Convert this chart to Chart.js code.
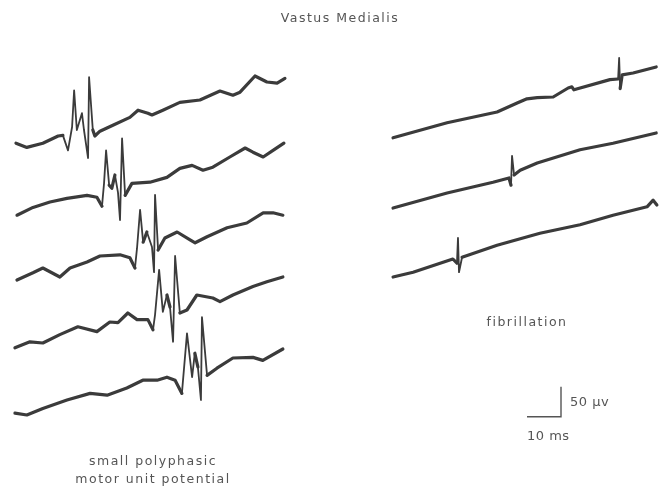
<!DOCTYPE html>
<html>
<head>
<meta charset="utf-8">
<script src="https://cdn.jsdelivr.net/npm/chart.js@4.4.0/dist/chart.umd.min.js"></script>
<style>
  html, body { margin: 0; padding: 0; background: #fff; }
  #wrap { width: 662px; height: 487px; position: relative; }
</style>
</head>
<body>
<div id="wrap"><canvas id="emg" width="662" height="487"></canvas></div>
<script>
// traces: [time ms from sweep start, µV relative to sweep start]
// small polyphasic motor unit potential, 5 consecutive sweeps
const mup1 = [[0,0],[3.2,-7],[7.9,0],[12.4,12],[13.8,13],[15.3,-12],[16.5,27],[17.1,88],[17.9,22],[19.4,50],[20,22],[21.2,-25],[21.5,110],[22.6,22],[23.2,12],[24.7,20],[28.5,30],[33.5,43],[35.9,55],[38.8,50],[40,47],[43.2,55],[48.2,68],[54.1,72],[60,87],[63.8,80],[65.9,85],[70.3,112],[73.8,102],[76.8,100],[79.1,108]];
const mup2 = [[0,0],[4.7,13],[9.7,22],[14.7,28],[20.6,33],[23.5,30],[25,15],[25.6,53],[26.2,108],[27.1,50],[27.9,45],[28.8,67],[29.7,38],[30.3,-8],[30.9,128],[31.8,33],[33.8,53],[39.1,55],[44.1,63],[47.9,78],[51.5,83],[54.7,75],[57.6,80],[62.6,97],[67.1,112],[69.4,105],[72.4,97],[75.3,108],[78.5,120]];
const mup3 = [[0,0],[4.7,12],[7.6,20],[12.6,5],[15.6,20],[20.6,30],[24.4,40],[30.3,42],[33.2,37],[34.7,20],[35.3,53],[36.2,117],[37.1,63],[38.2,80],[39.7,55],[40.3,13],[40.6,142],[41.5,50],[43.5,70],[47.1,80],[50.9,67],[52.4,62],[55.9,72],[61.8,87],[67.6,95],[72.4,112],[75.3,112],[78.2,108]];
const mup4 = [[0,0],[4.4,10],[8.2,8],[13.2,22],[18.5,35],[24.1,27],[27.9,43],[30.3,42],[33.2,58],[35.9,47],[39.1,47],[40.6,30],[41.2,55],[42.4,130],[43.5,60],[44.7,88],[45.6,68],[46.5,10],[47.1,153],[48.5,58],[50.6,63],[53.5,88],[58.2,83],[60.3,77],[64.1,88],[70,102],[74.1,110],[78.8,118]];
const mup5 = [[0,0],[3.5,-3],[8.2,8],[15.3,22],[22.1,33],[27.1,30],[32.9,42],[37.6,55],[41.8,55],[44.7,60],[47.1,55],[49.1,33],[50.6,133],[52.1,60],[52.9,100],[53.8,77],[54.7,22],[55,160],[56.5,63],[59.4,75],[64.1,92],[70,93],[72.9,88],[78.8,107]];
// fibrillation, 3 sweeps
const fib1 = [[0,0],[15.9,25],[30.6,43],[36.5,58],[39.4,65],[42.4,67],[47.1,68],[51.5,83],[52.6,85],[53.2,80],[63.8,97],[66.2,98],[66.5,133],[66.8,82],[67.4,105],[70.6,108],[77.4,118]];
const fib2 = [[0,0],[15.9,25],[29.4,43],[34.1,50],[34.7,38],[35,87],[35.6,55],[37.4,63],[42.4,75],[55,97],[64.7,108],[77.4,125]];
const fib3 = [[0,0],[5.9,8],[17.6,30],[18.8,23],[19.1,65],[19.4,8],[20.3,33],[30.6,53],[43.2,73],[55,87],[64.7,103],[74.7,117],[76.5,128],[77.6,120]];
// calibration
const calTime = [10];   // ms
const calVolt = [50];   // µV

// where each sweep starts on the page (ms, µV)
const sweeps = [
  { data: mup1, at: [4.7, 573] },
  { data: mup2, at: [5.0, 453] },
  { data: mup3, at: [5.0, 345] },
  { data: mup4, at: [4.4, 232] },
  { data: mup5, at: [4.4, 123] },
  { data: fib1, at: [115.6, 582] },
  { data: fib2, at: [115.6, 465] },
  { data: fib3, at: [115.6, 350] }
];
const calAt = [165, 117];
const PX_PER_MS = 3.4, PX_PER_UV = 0.6;

const ink = '#3b3b3b';
const datasets = sweeps.map(s => ({
  data: s.data.map(p => ({ x: s.at[0] + p[0], y: s.at[1] + p[1] })),
  borderColor: ink,
  borderWidth: 3.2,
  borderJoinStyle: 'round',
  borderCapStyle: 'round',
  pointRadius: 0,
  tension: 0,
  showLine: true,
  clip: false,
  segment: {
    // fast deflections come out thinner on the recording
    borderWidth: c => {
      const dx = Math.abs(c.p1.x - c.p0.x), dy = Math.abs(c.p1.y - c.p0.y);
      return (dy > 14 && dy > 2.5 * dx) ? 1.8 : 3.2;
    }
  }
}));
datasets.push({
  data: [
    { x: calAt[0] - calTime[0], y: calAt[1] },
    { x: calAt[0], y: calAt[1] },
    { x: calAt[0], y: calAt[1] + calVolt[0] }
  ],
  borderColor: '#555',
  borderWidth: 1.4,
  pointRadius: 0,
  showLine: true,
  clip: false
});

const labels = {
  id: 'labels',
  afterDraw(chart) {
    const ctx = chart.ctx;
    ctx.save();
    ctx.fillStyle = '#555';
    ctx.textBaseline = 'middle';
    ctx.textAlign = 'center';
    ctx.font = '12.5px "DejaVu Sans"';
    ctx.letterSpacing = '1.5px';
    ctx.fillText('Vastus Medialis', 340, 19);
    ctx.fillText('fibrillation', 527, 323);
    ctx.fillText('small polyphasic', 153, 462);
    ctx.fillText('motor unit potential', 153, 480);
    ctx.letterSpacing = '0.5px';
    ctx.textAlign = 'left';
    ctx.font = '13px "DejaVu Sans"';
    ctx.fillText('50 µv', 570, 403);
    ctx.fillText('10 ms', 527, 437);
    ctx.restore();
  }
};

new Chart(document.getElementById('emg'), {
  type: 'scatter',
  data: { datasets },
  options: {
    responsive: false,
    animation: false,
    layout: { padding: 0 },
    scales: {
      x: { type: 'linear', display: false, min: 0, max: 662 / PX_PER_MS },
      y: { type: 'linear', display: false, min: 0, max: 487 / PX_PER_UV }
    },
    plugins: { legend: { display: false }, tooltip: { enabled: false } }
  },
  plugins: [labels]
});
</script>
</body>
</html>
